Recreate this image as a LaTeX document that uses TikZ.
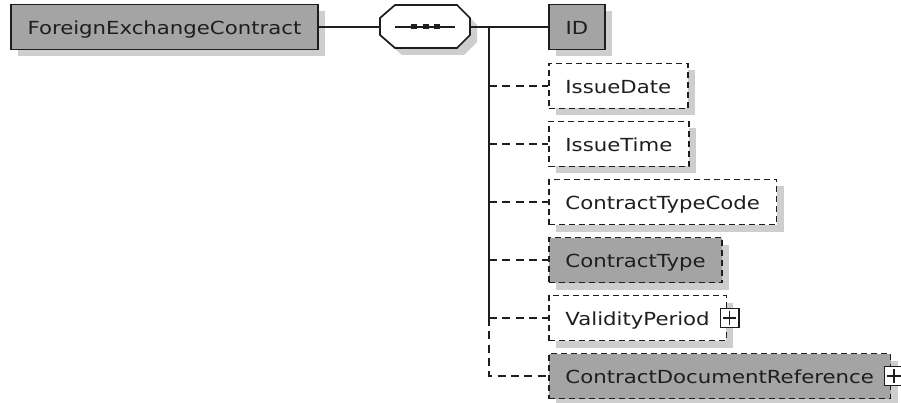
\documentclass[tikz,border=0pt]{standalone}
\usepackage{fontspec}
\setmainfont{DejaVu Sans}[FakeStretch=1.18]
\usetikzlibrary{shadows}
\definecolor{boxgray}{RGB}{164,164,164}
\definecolor{shadegray}{RGB}{206,206,206}
\definecolor{inkgray}{RGB}{30,30,30}

\begin{document}
\begin{tikzpicture}[x=0.75pt,y=-0.75pt,
		font=\fontsize{13.5}{16}\selectfont,
		elem/.style={draw=inkgray, text=inkgray, anchor=west, minimum height=33.75pt,
			inner xsep=12.5pt, inner ysep=0pt, text height=11.25pt, text depth=0pt, line width=1.3pt,
			drop shadow={shadow xshift=5.25pt, shadow yshift=-5.25pt, opacity=1, fill=shadegray, draw=none}},
		req/.style={elem, fill=boxgray},
		opt/.style={elem, fill=white, line width=1.2pt, dash pattern=on 4.5pt off 3pt},
		optgray/.style={opt, fill=boxgray},
		plusbox/.style={draw=inkgray, fill=white, line width=1pt, minimum size=14pt, inner sep=0pt,
			path picture={
				\draw[inkgray, line width=1pt] ([xshift=2pt]path picture bounding box.west) -- ([xshift=-2pt]path picture bounding box.east);
				\draw[inkgray, line width=1pt] ([yshift=2pt]path picture bounding box.south) -- ([yshift=-2pt]path picture bounding box.north);}},
		link/.style={draw=inkgray, line width=1.1pt},
		optlink/.style={link, dash pattern=on 6pt off 4pt}]
		\useasboundingbox (0,0) rectangle (901,403);
		
		% root element
		\node[req] (fec) at (10,27) {ForeignExchangeContract};
		
		% sequence compositor (octagon)
		\fill[shadegray] (387,25) -- (402,12) -- (464,12) -- (477,25) -- (477,42) -- (464,55) -- (402,55) -- (387,42) -- cycle;
		\draw[link, fill=white, line width=1.3pt] (380,18) -- (395,5) -- (457,5) -- (470,18) -- (470,35) -- (457,48) -- (395,48) -- (380,35) -- cycle;
		\node[minimum width=67.5pt, minimum height=32.25pt, inner sep=0pt] (seq) at (425,27) {};
		\draw[link] (395,27) -- (455,27);
		\foreach \xx in {414,425.5,437}
			\fill[inkgray] (\xx-3,24.5) rectangle (\xx+3,29.5);
		
		% children
		\foreach \nm/\txt/\sty/\yy in {id/ID/req/27, idate/IssueDate/opt/86, itime/IssueTime/opt/144,
				ctc/ContractTypeCode/opt/202, ctype/ContractType/optgray/260,
				vp/ValidityPeriod/opt/318, cdr/ContractDocumentReference/optgray/376}
			\node[\sty] (\nm) at (548,\yy) {\txt};
		\node[plusbox] (vpplus) at ([xshift=2pt]vp.east) {};
		\node[plusbox] (cdrplus) at ([xshift=2pt]cdr.east) {};
		
		% connectors
		\draw[link] (fec.east) -- (seq.west);
		\coordinate (bus) at (489,27);
		\draw[link] (seq.east) -- (bus) -- (bus |- vp.west);
		\draw[link] (bus) -- (id.west);
		\foreach \nm in {idate,itime,ctc,ctype,vp}
			\draw[optlink] (bus |- \nm.west) -- (\nm.west);
		\draw[optlink] (bus |- vp.west) -- (bus |- cdr.west) -- (cdr.west);
	\end{tikzpicture}
\end{document}
